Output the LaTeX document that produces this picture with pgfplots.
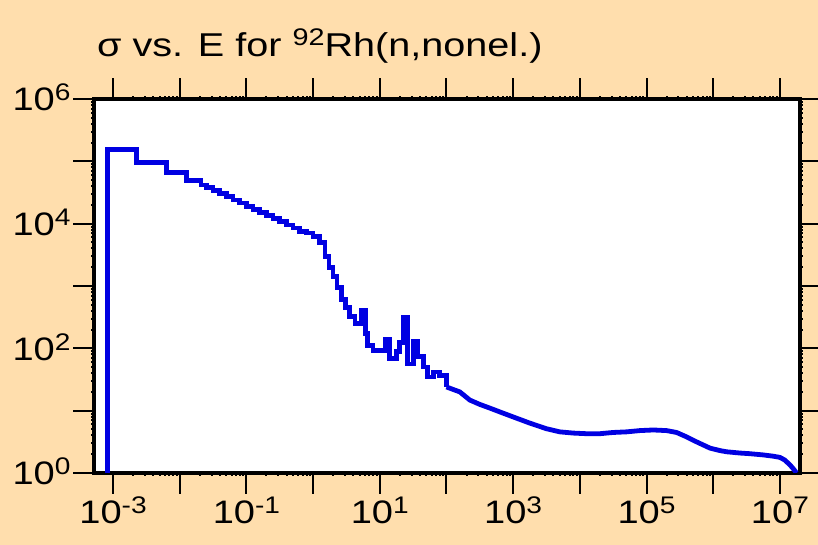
\documentclass[border=0pt]{standalone}
\usepackage{graphicx}
\usepackage{pgfplots}
\pgfplotsset{compat=1.18}
\usepackage{fontspec}
\setmainfont{Liberation Sans}
\definecolor{bgpeach}{RGB}{255,222,173}
\definecolor{lineblue}{RGB}{0,0,226}
\newcommand\ex[1]{\scalebox{1.17}[1]{10\raisebox{10pt}{\fontsize{24}{24}\selectfont #1}}}
\begin{document}
\begin{tikzpicture}
\fill[bgpeach] (0,0) rectangle (818pt,545pt);
\node[anchor=base west, inner sep=0pt, font=\fontsize{33}{38}\selectfont] at (97pt,488pt)
  {\scalebox{1.2}[1]{σ vs. E for \raisebox{11pt}{\fontsize{24}{24}\selectfont 92}Rh(n,nonel.)}};
\begin{loglogaxis}[
  at={(94pt,72pt)}, anchor=south west,
  scale only axis, width=706pt, height=374pt,
  xmin=5.19e-4, xmax=2.0e7,
  ymin=1, ymax=1e6,
  axis background/.style={fill=white},
  axis line style={line width=4.5pt, black},
  tick align=outside,
  major tick length=21pt,
  tick style={line width=2pt, black},
  minor tick num=0,
  xtick={1e-3,1e-2,1e-1,1,10,100,1e3,1e4,1e5,1e6,1e7},
  xticklabels={\ex{-3},{},\ex{-1},{},\ex{1},{},\ex{3},{},\ex{5},{},\ex{7}},
  ytick={1,10,100,1e3,1e4,1e5,1e6},
  yticklabels={\ex{0},{},\ex{2},{},\ex{4},{},\ex{6}},
  xtick pos=both, ytick pos=both,
  ticklabel style={font=\fontsize{32.5}{38}\selectfont},
  xticklabel style={anchor=base, yshift=-30pt},
  yticklabel style={anchor=base east, yshift=-12pt, xshift=1pt},
  clip=true,
]
\addplot[const plot, lineblue, line width=4.8pt, line join=miter] coordinates {
(8.18e-4,1) (8.18e-4,1.55e5) (2.26e-3,9.55e4) (6.38e-3,6.61e4) (1.27e-2,4.90e4)
(2.09e-2,4.17e4) (0.0251,3.80e4) (3.16e-2,3.39e4) (0.0398,3.02e4) (5.01e-2,2.69e4)
(0.0631,2.40e4) (7.94e-2,2.14e4) (0.1,1.91e4) (0.126,1.70e4) (0.158,1.51e4)
(0.200,1.35e4) (0.251,1.20e4) (0.316,1.07e4) (0.398,9550) (0.501,8511) (0.631,7586) (0.794,7079)
(1.0,6310) (1.259,5012) (1.514,2951) (1.738,1995) (1.995,1413)
(2.291,933) (2.692,603) (3.090,447) (3.548,324) (4.266,251)
(5.248,407) (6.026,174) (6.607,112) (7.943,91.2) (10,93.3)
(12.30,138) (14.13,69.2) (17.78,89.1) (19.95,123) (22.39,309)
(26.30,56.2) (31.62,129) (37.15,74.1) (44.67,50.1) (52.48,34.7)
(63.10,41.7) (79.43,37.2) (100,24.0)
};
\addplot[lineblue, line width=4.8pt] coordinates {
(100,24.0) (125.9,21.9) (158.5,20.0) (223.9,14.8) (316.2,12.6) (446.7,11.0)
(631,9.55) (1000,7.94) (1778,6.31) (3162,5.13) (5012,4.57) (7943,4.37)
(12590,4.27) (19950,4.27) (31620,4.47) (50120,4.57) (79430,4.79)
(125900,4.90) (199500,4.79) (281800,4.47) (398100,3.80) (562300,3.16)
(891300,2.51) (1.259e6,2.29) (1.585e6,2.19) (2.512e6,2.09) (3.548e6,2.04)
(5.623e6,1.95) (7.943e6,1.86) (1e7,1.78) (1.175e7,1.62) (1.413e7,1.35)
(1.585e7,1.17) (1.778e7,1.0)
};
\end{loglogaxis}
\pgfresetboundingbox
\path[use as bounding box] (0,0) rectangle (818pt,545pt);
\end{tikzpicture}
\end{document}
